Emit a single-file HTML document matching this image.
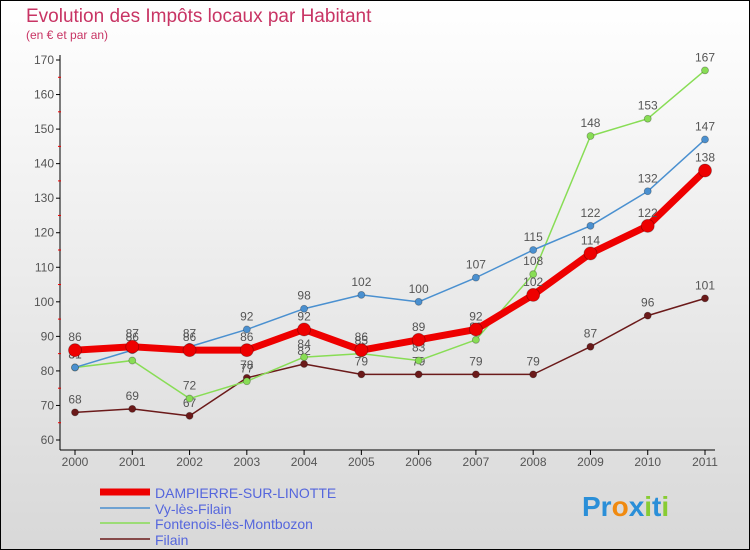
<!DOCTYPE html>
<html><head><meta charset="utf-8"><style>
body{margin:0}
#c{width:750px;height:550px;position:relative;overflow:hidden}
svg text{font-family:"Liberation Sans",sans-serif}
</style></head><body>
<div id="c">
<svg id="s" width="750" height="550" xmlns="http://www.w3.org/2000/svg">
<defs><linearGradient id="bg" x1="0" y1="0" x2="0" y2="1"><stop offset="0" stop-color="#ffffff"/><stop offset="1" stop-color="#d8d8d8"/></linearGradient></defs>
<rect x="0.5" y="0.5" width="749" height="549" fill="url(#bg)" stroke="#000"/>
<text x="26" y="22" font-size="19" fill="#c83464">Evolution des Impôts locaux par Habitant</text>
<text x="26" y="39" font-size="12" fill="#c83464">(en € et par an)</text>
<g id="axes"></g><g id="series"></g>
<g>
<line x1="100" y1="492" x2="150" y2="492" stroke="#ee0000" stroke-width="7"/><text x="155" y="498" font-size="14" fill="#5566dd">DAMPIERRE-SUR-LINOTTE</text>
<line x1="100" y1="508" x2="150" y2="508" stroke="#4a90d0" stroke-width="1.5"/><text x="155" y="514" font-size="14" fill="#5566dd">Vy-lès-Filain</text>
<line x1="100" y1="523" x2="150" y2="523" stroke="#88dd55" stroke-width="1.5"/><text x="155" y="529" font-size="14" fill="#5566dd">Fontenois-lès-Montbozon</text>
<line x1="100" y1="539" x2="150" y2="539" stroke="#6b1a1a" stroke-width="1.5"/><text x="155" y="545" font-size="14" fill="#5566dd">Filain</text>
</g>
<text x="582" y="516" font-size="28" font-weight="bold"><tspan fill="#2a8fd8">Pr</tspan><tspan fill="#f08a10">o</tspan><tspan fill="#2a8fd8">x</tspan><tspan fill="#88cc33">i</tspan><tspan fill="#2a8fd8">t</tspan><tspan fill="#88cc33">i</tspan></text>
</svg></div>
<script>
const years=[2000,2001,2002,2003,2004,2005,2006,2007,2008,2009,2010,2011];
const yTicks=[60,70,80,90,100,110,120,130,140,150,160,170];
const dampierre=[86,87,86,86,92,86,89,92,102,114,122,138];
const vy=[81,86,87,92,98,102,100,107,115,122,132,147];
const fontenois=[81,83,72,77,84,85,83,89,108,148,153,167];
const filain=[68,69,67,78,82,79,79,79,79,87,96,101];
const NS="http://www.w3.org/2000/svg";
function X(i){return 75+i*(630/11);}
function Y(v){return 440-(v-60)*(380/110);}
function mk(t,a,p){const e=document.createElementNS(NS,t);for(const k in a)e.setAttribute(k,a[k]);p.appendChild(e);return e;}
const ax=document.getElementById('axes');
const yl=mk('line',{x1:60,y1:55,x2:60,y2:450,stroke:'#000'},ax);


const xl=mk('line',{x1:60,y1:450,x2:715,y2:450,stroke:'#000'},ax);


yTicks.forEach(v=>{
 mk('line',{x1:56,y1:Y(v),x2:60,y2:Y(v),stroke:'#000'},ax);
 if(v<170) mk('line',{x1:58,y1:Y(v+5),x2:61,y2:Y(v+5),stroke:'#e00'},ax);
 const t=mk('text',{x:54,y:Y(v)+4,'font-size':12,fill:'#555','text-anchor':'end'},ax);
 t.textContent=v;
 
 
});
years.forEach((y,i)=>{
 mk('line',{x1:X(i),y1:450,x2:X(i),y2:455,stroke:'#000'},ax);
 const t=mk('text',{x:X(i),y:466,'font-size':12,fill:'#555','text-anchor':'middle'},ax);
 t.textContent=y;
 
 
});
const sg=document.getElementById('series');
function draw(data,color,w,r,name){
 const g=mk('g',{},sg);
 
 
 mk('polyline',{points:data.map((v,i)=>X(i)+','+Y(v)).join(' '),fill:'none',stroke:color,'stroke-width':w,'stroke-linejoin':'round'},g);
 data.forEach((v,i)=>{
  const c=mk('circle',{cx:X(i),cy:Y(v),r:r,fill:color,stroke:'rgba(0,0,0,0.3)','stroke-width':0.8},g);
  
  
  const t=mk('text',{x:X(i),y:Y(v)-9,'font-size':12,fill:'#555','text-anchor':'middle'},g);
  t.textContent=v;
  
  
 });
}
draw(filain,'#6b1a1a',1.5,3.5,'filain');
draw(fontenois,'#88dd55',1.5,3.5,'fontenois');
draw(vy,'#4a90d0',1.5,3.5,'vy');
draw(dampierre,'#ee0000',7,6.5,'dampierre');
</script>
</body></html>
